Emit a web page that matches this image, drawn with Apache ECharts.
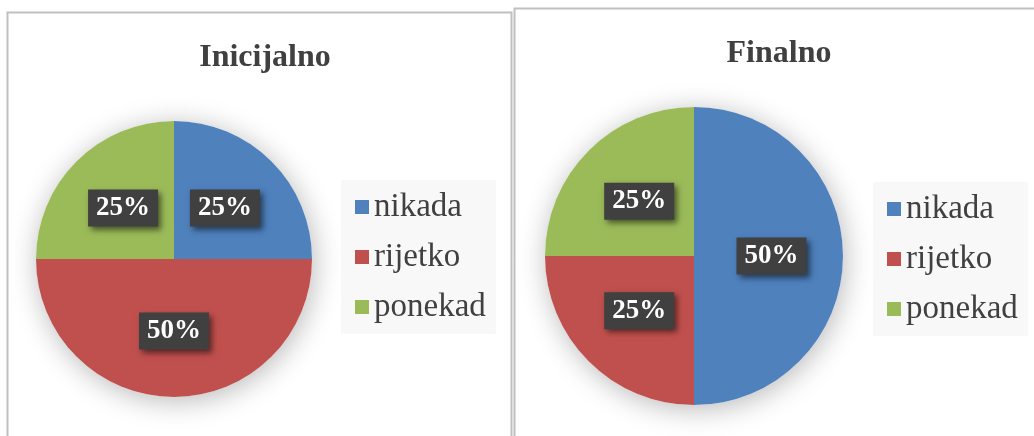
<!DOCTYPE html>
<html>
<head>
<meta charset="utf-8">
<script src="https://cdn.jsdelivr.net/npm/echarts@6/dist/echarts.min.js"></script>
<style>
html,body{margin:0;padding:0;background:#fff;}
#c{width:1034px;height:436px;}
</style>
</head>
<body>
<div id="c"></div>
<script>
const categories = ['nikada', 'rijetko', 'ponekad'];
const titles = ['Inicijalno', 'Finalno'];
const initialValues = [25, 50, 25];
const finalValues = [50, 25, 25];
const colors = ['#4f81bd', '#c0504d', '#9bbb59'];

const serif = '"Liberation Serif", "Times New Roman", serif';
const chart = echarts.init(document.getElementById('c'), null, {renderer: 'canvas'});

function labelStyle() {
  return {
    show: true,
    position: 'inside',
    formatter: '{d}%',
    fontFamily: serif,
    fontWeight: 'bold',
    fontSize: 27,
    color: '#fff',
    backgroundColor: '#404040',
    padding: [6, 8, 4, 8],
    shadowColor: 'rgba(0,0,0,0.55)',
    shadowBlur: 6,
    shadowOffsetX: 3,
    shadowOffsetY: 3
  };
}

function pieSeries(values, center, radius) {
  return {
    type: 'pie',
    center: center,
    radius: [0, radius],
    startAngle: 90,
    clockwise: true,
    z: 3,
    silent: true,
    label: labelStyle(),
    labelLine: {show: false},
    itemStyle: {borderWidth: 0},
    emphasis: {disabled: true},
    data: categories.map((n, i) => ({name: n, value: values[i], itemStyle: {color: colors[i]}}))
  };
}

function shadowSeries(center, radius) {
  return {
    type: 'pie',
    center: center,
    radius: [0, radius],
    z: 1,
    silent: true,
    label: {show: false},
    labelLine: {show: false},
    itemStyle: {color: '#fff', shadowBlur: 28, shadowColor: 'rgba(0,0,0,0.28)', shadowOffsetX: 2, shadowOffsetY: 4},
    emphasis: {disabled: true},
    data: [{name: '_bg', value: 1}]
  };
}

function legend(left, top) {
  return {
    data: categories,
    orient: 'vertical',
    left: left,
    top: top,
    backgroundColor: '#f8f8f8',
    padding: [9, 10, 9, 14],
    itemGap: 14,
    itemWidth: 14,
    itemHeight: 14,
    icon: 'rect',
    selectedMode: false,
    textStyle: {fontFamily: serif, fontSize: 33, color: '#404040', lineHeight: 36}
  };
}

chart.setOption({
  backgroundColor: '#fff',
  animation: false,
  title: [
    {text: titles[0], left: 260, top: 37, textAlign: 'center',
     textStyle: {fontFamily: serif, fontWeight: 'bold', fontSize: 32, color: '#404040'}},
    {text: titles[1], left: 774, top: 33, textAlign: 'center',
     textStyle: {fontFamily: serif, fontWeight: 'bold', fontSize: 32, color: '#404040'}}
  ],
  legend: [legend(341, 180), legend(873, 182)],
  graphic: [
    {type: 'polyline', z: 0, shape: {points: [[7.5, 440], [7.5, 12.5], [511.5, 12.5], [511.5, 440]]},
     style: {stroke: '#c0c0c0', lineWidth: 2, fill: null}},
    {type: 'polyline', z: 0, shape: {points: [[514.5, 440], [514.5, 8.5], [1040, 8.5]]},
     style: {stroke: '#c0c0c0', lineWidth: 2, fill: null}}
  ],
  series: [
    shadowSeries([174, 259], 138),
    pieSeries(initialValues, [174, 259], 138),
    shadowSeries([694, 256], 149),
    pieSeries(finalValues, [694, 256], 149)
  ]
});
</script>
</body>
</html>
